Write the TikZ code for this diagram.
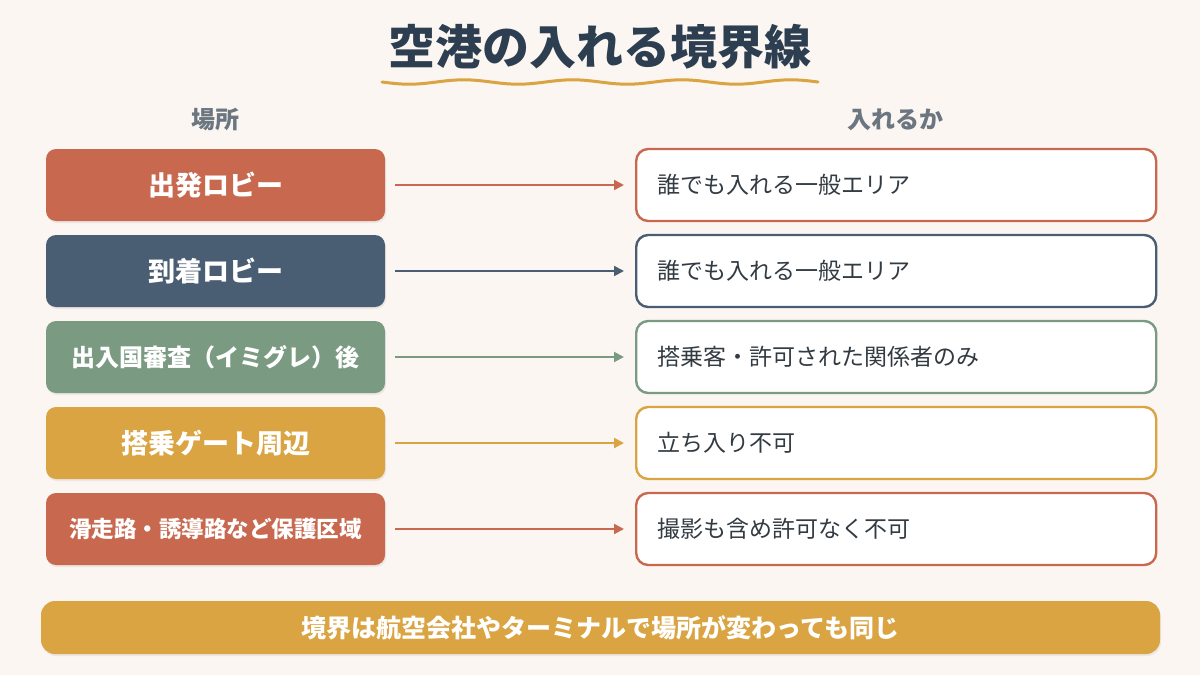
\documentclass[tikz,border=0pt]{standalone}
\usepackage{fontspec}
\setmainfont{Noto Sans CJK JP}
\usepackage{tikz}
\usetikzlibrary{arrows.meta, shadows}

\definecolor{bgcream}{HTML}{FBF6F2}
\definecolor{titleink}{HTML}{2C3E50}
\definecolor{headink}{HTML}{6B7680}
\definecolor{bodyink}{HTML}{333B42}
\definecolor{terra}{HTML}{C8694F}
\definecolor{slate}{HTML}{4A5E73}
\definecolor{sage}{HTML}{7A9A82}
\definecolor{gold}{HTML}{D9A441}

\tikzset{
  placebox/.style={rectangle, rounded corners=10pt, minimum width=339pt,
    minimum height=72pt, text=white, font=\bfseries\fontsize{27}{31}\selectfont,
    drop shadow={shadow xshift=1pt, shadow yshift=-2pt, opacity=0.12}},
  accessbox/.style={rectangle, rounded corners=12pt, draw, line width=2.4pt,
    fill=white, text width=478pt, inner xsep=21pt, minimum height=72pt,
    align=left, text=bodyink, font=\fontsize{23}{28}\selectfont},
  flow/.style={-{Triangle[length=10pt, width=10pt]}, line width=2pt,
    shorten <=10pt, shorten >=11pt},
  colhead/.style={text=headink, font=\bfseries\fontsize{24}{29}\selectfont},
}

\begin{document}
\begin{tikzpicture}[x=1pt, y=-1pt]
    % Background
    \fill[bgcream] (0,0) rectangle (1200,675);
    \useasboundingbox (0,0) rectangle (1200,675);
    % Title with wavy underline
    \node[text=titleink, font=\bfseries\fontsize{47}{53}\selectfont] (title) at (600,47) {空港の入れる境界線};
    \draw[gold, line width=3pt, line cap=round]
        plot[domain=0:436, samples=120, smooth] ({382+\x}, {82+2.2*sin(\x*3.3028)});
    % Column heads
    \node[colhead] (headplace) at (215,120) {場所};
    \node[colhead] (headaccess) at (895,120) {入れるか};
    % Places
    \node[placebox, fill=terra] (loc1) at (215.5,185) {出発ロビー};
    \node[placebox, fill=slate] (loc2) at (215.5,271) {到着ロビー};
    \node[placebox, fill=sage, font=\bfseries\fontsize{24}{28}\selectfont] (loc3) at (215.5,357) {出入国審査（イミグレ）後};
    \node[placebox, fill=gold] (loc4) at (215.5,443) {搭乗ゲート周辺};
    \node[placebox, fill=terra, font=\bfseries\fontsize{22.5}{27}\selectfont] (loc5) at (215.5,529) {滑走路・誘導路など保護区域};
    % Access
    \node[accessbox, draw=terra, anchor=west] (acc1) at (635,185) {誰でも入れる一般エリア};
    \node[accessbox, draw=slate, anchor=west] (acc2) at (635,271) {誰でも入れる一般エリア};
    \node[accessbox, draw=sage, anchor=west] (acc3) at (635,357) {搭乗客・許可された関係者のみ};
    \node[accessbox, draw=gold, anchor=west] (acc4) at (635,443) {立ち入り不可};
    \node[accessbox, draw=terra, anchor=west] (acc5) at (635,529) {撮影も含め許可なく不可};
    % Arrows
    \draw[flow, terra] (loc1) -- (acc1);
    \draw[flow, slate] (loc2) -- (acc2);
    \draw[flow, sage] (loc3) -- (acc3);
    \draw[flow, gold] (loc4) -- (acc4);
    \draw[flow, terra] (loc5) -- (acc5);
    % Note
    \node[rectangle, rounded corners=14pt, fill=gold, minimum width=1119pt, minimum height=53pt,
          text=white, font=\bfseries\fontsize{25}{30}\selectfont,
          drop shadow={shadow xshift=1pt, shadow yshift=-2pt, opacity=0.12}] (note) at (600.5,627.5)
        {境界は航空会社やターミナルで場所が変わっても同じ};
\end{tikzpicture}
\end{document}
